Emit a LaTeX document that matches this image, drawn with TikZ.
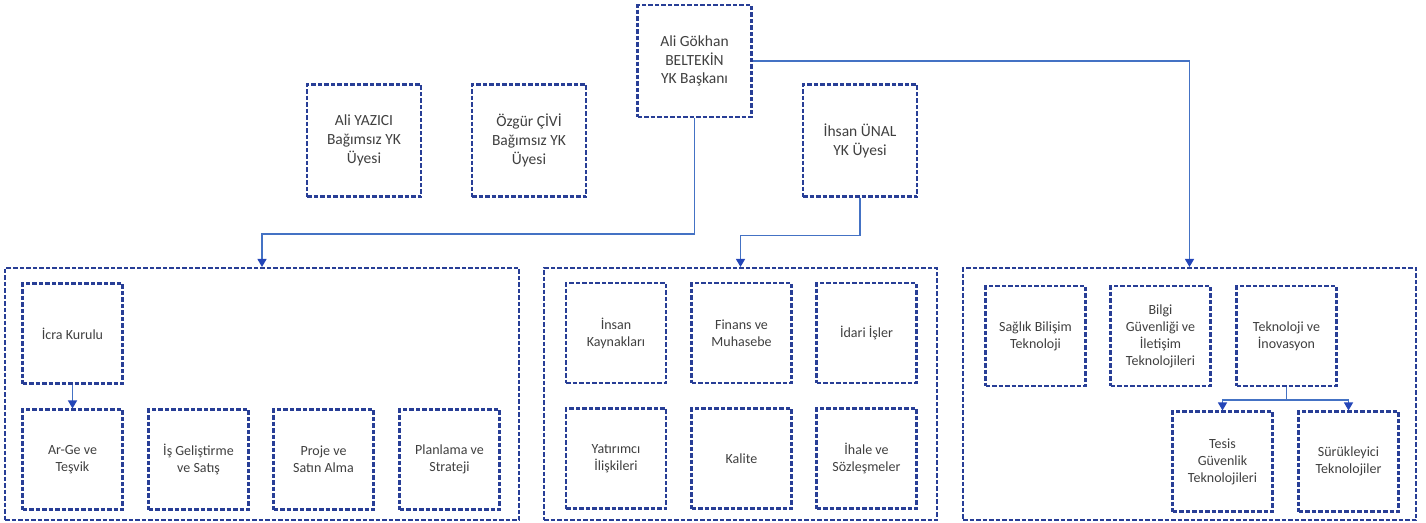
\documentclass[tikz,border=0pt]{standalone}
\usepackage{fontspec}
\setmainfont{Carlito}
\usetikzlibrary{arrows.meta}
\definecolor{boxblue}{RGB}{40,62,150}
\definecolor{linkblue}{RGB}{68,114,196}
\definecolor{tipblue}{RGB}{36,70,184}
\definecolor{txt}{RGB}{64,64,64}
\tikzset{
  dbox/.style={draw=boxblue, line width=2.1pt, dash pattern=on 4.5pt off 2pt, align=center, text=txt, inner sep=2pt, fill=white},
  topbox/.style={dbox, minimum width=114pt, minimum height=112pt, font=\fontsize{15.5pt}{18.9pt}\selectfont},
  unitbox/.style={dbox, minimum width=100pt, minimum height=100pt, font=\fontsize{14pt}{17pt}\selectfont},
  contbox/.style={dbox, minimum height=252pt},
  conn/.style={draw=linkblue, line width=1.3pt},
  arr/.style={conn, -{Triangle[width=9pt,length=8pt,color=tipblue]}}
}
\begin{document}
\begin{tikzpicture}[x=1pt,y=-1pt]
\useasboundingbox (0,0) rectangle (1426,522);
% containers
\node[contbox, minimum width=514pt] (L) at (262,394) {};
\node[contbox, minimum width=393pt] (M) at (740.5,394) {};
\node[contbox, minimum width=453pt] (R) at (1189.5,394) {};
% top
\node[topbox] (top) at (694.5,61) {Ali Gökhan\\BELTEKİN\\YK Başkanı};
\node[topbox] (yazici) at (364,140.5) {Ali YAZICI\\Bağımsız YK\\Üyesi};
\node[topbox] (civi) at (529,140.5) {Özgür ÇİVİ\\Bağımsız YK\\Üyesi};
\node[topbox] (ihsan) at (860,140.5) {İhsan ÜNAL\\YK Üyesi};
% left units
\node[unitbox] (icra) at (72.5,333.5) {İcra Kurulu};
\node[unitbox] (arge) at (72.5,459.5) {Ar-Ge ve\\Teşvik};
\node[unitbox] (isgel) at (198.5,459.5) {İş Geliştirme\\ve Satış};
\node[unitbox] (proje) at (323.5,459.5) {Proje ve\\Satın Alma};
\node[unitbox] (plan) at (449.5,459.5) {Planlama ve\\Strateji};
% middle units
\node[unitbox] (ik) at (616,333) {İnsan\\Kaynakları};
\node[unitbox] (finans) at (741.5,333) {Finans ve\\Muhasebe};
\node[unitbox] (idari) at (866.5,333) {İdari İşler};
\node[unitbox] (yatirim) at (616,458.5) {Yatırımcı\\İlişkileri};
\node[unitbox] (kalite) at (741.5,458.5) {Kalite};
\node[unitbox] (ihale) at (866.5,458.5) {İhale ve\\Sözleşmeler};
% right units
\node[unitbox] (saglik) at (1035.5,336) {Sağlık Bilişim\\Teknoloji};
\node[unitbox] (bilgi) at (1160.5,336) {Bilgi\\Güvenliği ve\\İletişim\\Teknolojileri};
\node[unitbox] (tekno) at (1286.5,336) {Teknoloji ve\\İnovasyon};
\node[unitbox] (tesis) at (1222.5,461.5) {Tesis\\Güvenlik\\Teknolojileri};
\node[unitbox] (suruk) at (1348.5,461.5) {Sürükleyici\\Teknolojiler};
% connectors
\draw[arr] (top.south) -- ++(0,116) -| (L.north);
\draw[arr] (ihsan.south) -- ++(0,38) -| (M.north);
\draw[arr] (top.east) -| (R.north);
\draw[arr] (icra.south) -- (arge.north);
\draw[conn] (tekno.south) -- ++(0,13) coordinate (j);
\draw[arr] (j) -| (tesis.north);
\draw[arr] (j) -| (suruk.north);
\end{tikzpicture}
\end{document}
